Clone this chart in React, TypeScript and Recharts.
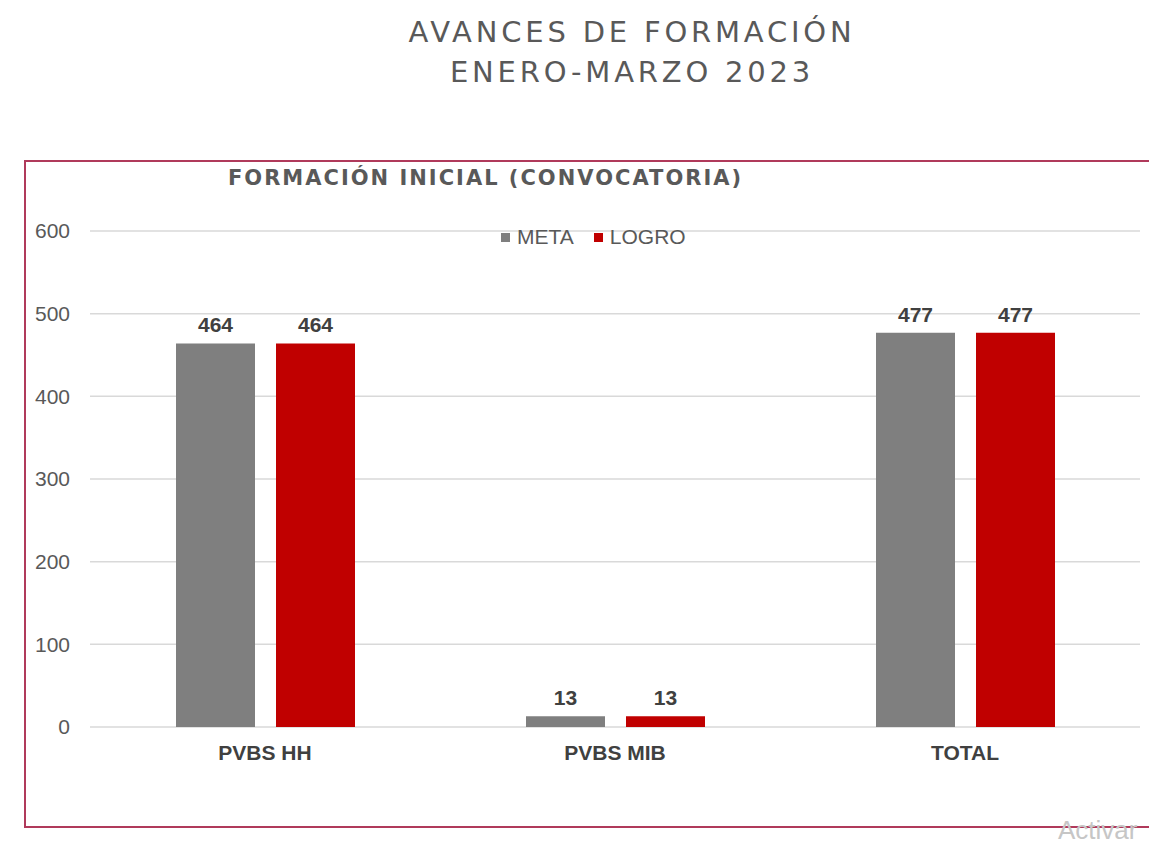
import { BarChart, Bar, XAxis, YAxis, CartesianGrid, LabelList } from 'recharts'

const categories = ['PVBS HH', 'PVBS MIB', 'TOTAL']
const meta = [464, 13, 477]
const logro = [464, 13, 477]
const yTicks = [0, 100, 200, 300, 400, 500, 600]

const data = categories.map((name, i) => ({ name, META: meta[i], LOGRO: logro[i] }))

const GRAY = '#7f7f7f'
const RED = '#c00000'
const TEXT = '#595959'
const SANS = 'Liberation Sans, Arial, sans-serif'

const legendItems = [
  { label: 'META', color: GRAY },
  { label: 'LOGRO', color: RED },
]

export default function App() {
  return (
    <div style={{ position: 'absolute', left: 0, top: 0, width: 1149, height: 845, background: '#fff', overflow: 'hidden' }}>
      <div
        style={{
          position: 'absolute',
          left: 2,
          top: 12,
          width: 1260,
          textAlign: 'center',
          fontFamily: 'DejaVu Sans, sans-serif',
          fontSize: 29,
          lineHeight: '40px',
          color: TEXT,
          letterSpacing: 3.8,
        }}
      >
        AVANCES DE FORMACIÓN
        <br />
        ENERO-MARZO 2023
      </div>
      <div
        style={{
          position: 'absolute',
          left: 24,
          top: 160,
          width: 1140,
          height: 668,
          border: '2px solid #b03a5b',
          boxSizing: 'border-box',
        }}
      />
      <div
        style={{
          position: 'absolute',
          left: 228,
          top: 166,
          fontFamily: 'DejaVu Sans, sans-serif',
          fontWeight: 'bold',
          fontSize: 21,
          letterSpacing: 2,
          color: TEXT,
          whiteSpace: 'nowrap',
        }}
      >
        FORMACIÓN INICIAL (CONVOCATORIA)
      </div>
      <div
        style={{
          position: 'absolute',
          left: 501,
          top: 225,
          display: 'flex',
          alignItems: 'center',
          fontFamily: SANS,
          fontSize: 21,
          lineHeight: '24px',
          color: TEXT,
          zIndex: 2,
        }}
      >
        {legendItems.map((it) => (
          <div key={it.label} style={{ display: 'flex', alignItems: 'center', marginRight: 20 }}>
            <span style={{ width: 9, height: 9, background: it.color, display: 'inline-block', marginRight: 7 }} />
            <span>{it.label}</span>
          </div>
        ))}
      </div>
      <div style={{ position: 'absolute', left: 0, top: 0 }}>
        <BarChart
          width={1149}
          height={845}
          data={data}
          margin={{ top: 231, right: 9, bottom: 88, left: 10 }}
          barSize={79}
          barGap={21}
        >
          <CartesianGrid vertical={false} stroke="#d9d9d9" strokeWidth={1.5} />
          <XAxis
            dataKey="name"
            height={30}
            axisLine={false}
            tickLine={false}
            tickMargin={12}
            tick={{ fill: '#404040', fontSize: 21, fontWeight: 'bold', fontFamily: SANS }}
          />
          <YAxis
            width={80}
            domain={[0, 600]}
            ticks={yTicks}
            axisLine={false}
            tickLine={false}
            tickMargin={14}
            tick={{ fill: TEXT, fontSize: 21, fontFamily: SANS }}
          />
          <Bar dataKey="META" fill={GRAY} isAnimationActive={false}>
            <LabelList
              dataKey="META"
              position="top"
              offset={11}
              style={{ fill: '#404040', fontSize: 21, fontWeight: 'bold', fontFamily: SANS }}
            />
          </Bar>
          <Bar dataKey="LOGRO" fill={RED} isAnimationActive={false}>
            <LabelList
              dataKey="LOGRO"
              position="top"
              offset={11}
              style={{ fill: '#404040', fontSize: 21, fontWeight: 'bold', fontFamily: SANS }}
            />
          </Bar>
        </BarChart>
      </div>
      <div
        style={{
          position: 'absolute',
          left: 1058,
          top: 815,
          fontFamily: SANS,
          fontSize: 26,
          color: '#c6c6c6',
          whiteSpace: 'nowrap',
        }}
      >
        Activar
      </div>
    </div>
  )
}
